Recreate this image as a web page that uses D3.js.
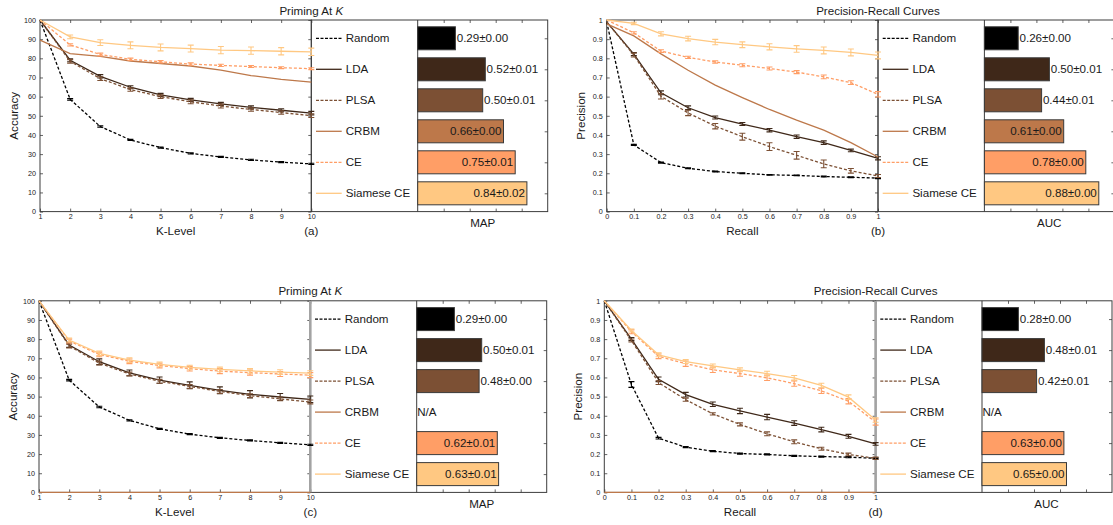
<!DOCTYPE html>
<html><head><meta charset="utf-8">
<script src="https://cdn.jsdelivr.net/npm/d3@7"></script>
<style>
body{margin:0;background:#fff}
svg{display:block;font-family:"Liberation Sans",Arial,sans-serif}
</style>
</head><body>
<svg id="chart" width="1113" height="525"></svg>
<script>
// ---------- data ----------
const methods = ["Random", "LDA", "PLSA", "CRBM", "CE", "Siamese CE"];
const colors  = ["#000000", "#3f2819", "#7c5034", "#bd784a", "#ff9e66", "#ffc882"];
const dashed  = [true, false, true, false, true, false];

const kLevels = [1, 2, 3, 4, 5, 6, 7, 8, 9, 10];
const recallLevels = [0, 0.1, 0.2, 0.3, 0.4, 0.5, 0.6, 0.7, 0.8, 0.9, 1];
const accuracyTicks = [0, 10, 20, 30, 40, 50, 60, 70, 80, 90, 100];
const precisionTicks = [0, 0.1, 0.2, 0.3, 0.4, 0.5, 0.6, 0.7, 0.8, 0.9, 1];

// (a) Priming at K – accuracy
const accuracyA = [
  [100, 58.6, 44.4, 37.4, 33.4, 30.4, 28.5, 27.0, 25.8, 24.9],
  [100, 79.0, 70.6, 64.9, 60.9, 58.3, 56.2, 54.4, 52.9, 51.4],
  [100, 78.4, 69.4, 63.7, 60.0, 57.3, 55.1, 53.3, 51.7, 50.1],
  [89.5, 82.5, 81.0, 78.6, 77.3, 76.0, 73.8, 71.0, 69.0, 67.6],
  [100, 87.0, 82.0, 79.5, 78.2, 77.0, 76.3, 75.7, 75.1, 74.6],
  [100, 91.2, 88.2, 86.8, 85.7, 85.1, 84.3, 84.0, 83.7, 83.4]
];
const accuracyErrA = [
  [0, 0.4, 0.4, 0.3, 0.3, 0.3, 0.3, 0.3, 0.3, 0.3],
  [0, 0.8, 0.9, 0.8, 0.8, 0.8, 0.8, 0.8, 0.8, 0.9],
  [0, 0.9, 1.0, 0.9, 0.9, 1.0, 1.0, 0.9, 0.9, 1.0],
  [0, 0, 0, 0, 0, 0, 0, 0, 0, 0],
  [0, 0.6, 0.7, 0.6, 0.6, 0.6, 0.6, 0.5, 0.5, 0.5],
  [0, 1.0, 1.5, 1.8, 1.8, 1.8, 1.9, 1.9, 1.9, 1.9]
];
// (b) Precision-recall
const precisionB = [
  [0.99, 0.348, 0.256, 0.226, 0.209, 0.200, 0.192, 0.189, 0.183, 0.179, 0.175],
  [0.99, 0.822, 0.620, 0.542, 0.491, 0.457, 0.425, 0.391, 0.360, 0.319, 0.278],
  [0.99, 0.817, 0.602, 0.515, 0.446, 0.391, 0.339, 0.294, 0.249, 0.213, 0.186],
  [0.98, 0.917, 0.823, 0.738, 0.660, 0.595, 0.533, 0.477, 0.425, 0.360, 0.285],
  [1.00, 0.933, 0.838, 0.805, 0.781, 0.764, 0.747, 0.728, 0.703, 0.673, 0.612],
  [1.00, 0.982, 0.928, 0.903, 0.885, 0.871, 0.860, 0.849, 0.841, 0.831, 0.815]
];
const precisionErrB = [
  [0, 0.003, 0.003, 0.002, 0.002, 0.002, 0.002, 0.002, 0.002, 0.002, 0.003],
  [0, 0.008, 0.010, 0.010, 0.008, 0.008, 0.009, 0.009, 0.009, 0.007, 0.008],
  [0, 0.010, 0.014, 0.014, 0.014, 0.018, 0.020, 0.020, 0.020, 0.012, 0.008],
  [0, 0, 0, 0, 0, 0, 0, 0, 0, 0, 0],
  [0, 0.006, 0.007, 0.006, 0.006, 0.008, 0.008, 0.008, 0.010, 0.010, 0.014],
  [0, 0.006, 0.011, 0.012, 0.014, 0.015, 0.016, 0.017, 0.018, 0.018, 0.018]
];
// (c) Priming at K – accuracy (second setting)
const accuracyC = [
  [100, 58.6, 44.6, 37.6, 33.2, 30.4, 28.5, 27.1, 25.9, 24.8],
  [100, 76.9, 68.2, 62.4, 58.6, 55.9, 53.3, 51.2, 49.8, 48.6],
  [100, 76.4, 67.5, 61.8, 58.0, 55.3, 52.7, 50.5, 48.8, 47.2],
  [0, 0, 0, 0, 0, 0, 0, 0, 0, 0],
  [100, 79.0, 72.0, 68.4, 66.2, 64.6, 63.3, 62.5, 61.8, 61.2],
  [100, 79.5, 72.6, 69.0, 66.8, 65.2, 64.2, 63.4, 62.8, 62.3]
];
const accuracyErrC = [
  [0, 0.4, 0.4, 0.3, 0.3, 0.3, 0.3, 0.3, 0.3, 0.3],
  [0, 1.2, 1.5, 1.5, 1.6, 1.8, 1.8, 1.9, 1.8, 1.7],
  [0, 1.0, 1.0, 1.0, 1.0, 1.0, 1.0, 1.0, 1.0, 1.0],
  [0, 0, 0, 0, 0, 0, 0, 0, 0, 0],
  [0, 1.0, 1.2, 1.2, 1.2, 1.2, 1.3, 1.3, 1.3, 1.3],
  [0, 1.0, 1.2, 1.2, 1.2, 1.2, 1.2, 1.2, 1.2, 1.2]
];
// (d) Precision-recall (second setting)
const precisionD = [
  [1.00, 0.563, 0.283, 0.236, 0.215, 0.203, 0.198, 0.191, 0.187, 0.184, 0.178],
  [1.00, 0.800, 0.590, 0.510, 0.460, 0.425, 0.393, 0.362, 0.328, 0.293, 0.253],
  [1.00, 0.793, 0.573, 0.484, 0.410, 0.355, 0.306, 0.264, 0.228, 0.198, 0.178],
  [0, 0, 0, 0, 0, 0, 0, 0, 0, 0, 0],
  [1.00, 0.838, 0.710, 0.672, 0.640, 0.620, 0.598, 0.568, 0.530, 0.476, 0.367],
  [1.00, 0.845, 0.718, 0.683, 0.660, 0.640, 0.620, 0.598, 0.558, 0.497, 0.378]
];
const precisionErrD = [
  [0, 0.015, 0.004, 0.003, 0.003, 0.003, 0.003, 0.003, 0.003, 0.003, 0.003],
  [0, 0.008, 0.012, 0.012, 0.012, 0.014, 0.014, 0.012, 0.012, 0.010, 0.007],
  [0, 0.008, 0.010, 0.008, 0.006, 0.008, 0.010, 0.010, 0.008, 0.007, 0.006],
  [0, 0, 0, 0, 0, 0, 0, 0, 0, 0, 0],
  [0, 0.010, 0.012, 0.014, 0.014, 0.014, 0.014, 0.014, 0.014, 0.014, 0.016],
  [0, 0.008, 0.010, 0.010, 0.010, 0.010, 0.012, 0.012, 0.012, 0.012, 0.012]
];

// bar summaries
const mapA = [0.29, 0.52, 0.50, 0.66, 0.75, 0.84];
const mapErrA = [0.00, 0.01, 0.01, 0.00, 0.01, 0.02];
const aucB = [0.26, 0.50, 0.44, 0.61, 0.78, 0.88];
const aucErrB = [0.00, 0.01, 0.01, 0.00, 0.00, 0.00];
const mapC = [0.29, 0.50, 0.48, null, 0.62, 0.63];
const mapErrC = [0.00, 0.01, 0.00, null, 0.01, 0.01];
const aucD = [0.28, 0.48, 0.42, null, 0.63, 0.65];
const aucErrD = [0.00, 0.01, 0.01, null, 0.00, 0.00];
const barTicks = [0.2, 0.4, 0.6, 0.8];

// ---------- layout ----------
const svg = d3.select("#chart");
const lineW = 271.3, legW = 106.4, barW = 130, H = 191.6;
const textCol = "#1a1a1a", frameCol = "#3c3c3c";
const FS = 11.6, TFS = 7.2;

const panels = [
  {x0: 40,    top: 20,    xs: kLevels, xTicks: kLevels, yTicks: accuracyTicks, yDom: [0, 100], vals: accuracyA, errs: accuracyErrA,
   bars: mapA, barErrs: mapErrA, title: "Priming At ", italicK: true, xLabel: "K-Level", yLabel: "Accuracy", barLabel: "MAP", tag: "(a)", grey: false},
  {x0: 606.7, top: 20,    xs: recallLevels, xTicks: recallLevels, yTicks: precisionTicks, yDom: [0, 1], vals: precisionB, errs: precisionErrB,
   bars: aucB, barErrs: aucErrB, title: "Precision-Recall Curves", italicK: false, xLabel: "Recall", yLabel: "Precision", barLabel: "AUC", tag: "(b)", grey: false},
  {x0: 39,    top: 300.8, xs: kLevels, xTicks: kLevels, yTicks: accuracyTicks, yDom: [0, 100], vals: accuracyC, errs: accuracyErrC,
   bars: mapC, barErrs: mapErrC, title: "Priming At ", italicK: true, xLabel: "K-Level", yLabel: "Accuracy", barLabel: "MAP", tag: "(c)", grey: true},
  {x0: 604.3, top: 300.8, xs: recallLevels, xTicks: recallLevels, yTicks: precisionTicks, yDom: [0, 1], vals: precisionD, errs: precisionErrD,
   bars: aucD, barErrs: aucErrD, title: "Precision-Recall Curves", italicK: false, xLabel: "Recall", yLabel: "Precision", barLabel: "AUC", tag: "(d)", grey: true}
];

function styleAxis(g) {
  g.select(".domain").remove();
  g.selectAll(".tick line").attr("stroke", frameCol).attr("stroke-width", 0.8);
  g.selectAll(".tick text").attr("fill", textCol).attr("font-size", TFS).attr("font-family", "Liberation Sans, Arial, sans-serif");
}

panels.forEach(p => {
  const g = svg.append("g");
  const xL = p.x0, xR = p.x0 + lineW, yT = p.top, yB = p.top + H;
  const x = d3.scaleLinear().domain(d3.extent(p.xs)).range([xL, xR]);
  const y = d3.scaleLinear().domain(p.yDom).range([yB, yT]);
  const legL = xR, barL = xR + legW, barR = barL + barW;

  // frames first
  g.append("rect").attr("x", xL).attr("y", yT).attr("width", lineW).attr("height", H)
    .attr("fill", "none").attr("stroke", frameCol).attr("stroke-width", 1);
  g.append("rect").attr("x", legL).attr("y", yT).attr("width", barR - legL).attr("height", H)
    .attr("fill", "none").attr("stroke", frameCol).attr("stroke-width", 1);
  g.append("line").attr("x1", barL).attr("x2", barL).attr("y1", yT).attr("y2", yB)
    .attr("stroke", frameCol).attr("stroke-width", 1);

  // ----- line plot axes -----
  g.append("g").attr("transform", `translate(0,${yB})`)
    .call(d3.axisBottom(x).tickValues(p.xTicks).tickFormat(d => String(d)).tickSizeInner(-3).tickSizeOuter(0).tickPadding(2.6))
    .call(styleAxis);
  g.append("g").attr("transform", `translate(0,${yT})`)
    .call(d3.axisTop(x).tickValues(p.xTicks).tickFormat("").tickSizeInner(-3).tickSizeOuter(0))
    .call(styleAxis);
  g.append("g").attr("transform", `translate(${xL},0)`)
    .call(d3.axisLeft(y).tickValues(p.yTicks).tickFormat(d => String(d)).tickSizeInner(-3).tickSizeOuter(0).tickPadding(4))
    .call(styleAxis);
  g.append("g").attr("transform", `translate(${xR},0)`)
    .call(d3.axisRight(y).tickValues(p.yTicks).tickFormat("").tickSizeInner(-3).tickSizeOuter(0))
    .call(styleAxis);

  if (p.grey) {
    g.append("line").attr("x1", xR).attr("x2", xR).attr("y1", yT).attr("y2", yB)
      .attr("stroke", "#a3a3a3").attr("stroke-width", 2.6);
  }

  // ----- series -----
  const line = d3.line().x((d, i) => x(p.xs[i])).y(d => y(d));
  p.vals.forEach((vals, s) => {
    const sg = g.append("g");
    sg.append("path").datum(vals)
      .attr("d", line)
      .attr("fill", "none")
      .attr("stroke", colors[s])
      .attr("stroke-width", 1.3)
      .attr("stroke-dasharray", dashed[s] ? "3,2" : null);
    const errs = p.errs[s];
    vals.forEach((v, i) => {
      const e = errs[i];
      if (!e) return;
      const cx = x(p.xs[i]), y1 = y(v - e), y2 = y(v + e);
      sg.append("path")
        .attr("d", `M${cx},${y1}V${y2}M${cx - 3},${y1}H${cx + 3}M${cx - 3},${y2}H${cx + 3}`)
        .attr("fill", "none").attr("stroke", colors[s]).attr("stroke-width", 1.1);
    });
  });

  // ----- legend + bar area -----
  const band = d3.scalePoint().domain(methods).range([yT, yB]).padding(0.59);
  const bx = d3.scaleLinear().domain([0, 1]).range([barL, barR]);
  const barH = 23;

  methods.forEach((m, s) => {
    const cy = band(m);
    g.append("line").attr("x1", legL + 4.7).attr("x2", legL + 30.4).attr("y1", cy).attr("y2", cy)
      .attr("stroke", colors[s]).attr("stroke-width", 1.3)
      .attr("stroke-dasharray", dashed[s] ? "3,1.5" : null);
    g.append("text").attr("x", legL + 34.4).attr("y", cy).attr("dy", "0.36em")
      .attr("font-size", FS).attr("fill", textCol).text(m);
  });

  methods.forEach((m, s) => {
    const v = p.bars[s];
    const cy = band(m);
    if (v == null) {
      g.append("text").attr("x", barL + 0.5).attr("y", cy).attr("dy", "0.36em")
        .attr("font-size", FS).attr("fill", textCol).text("N/A");
      return;
    }
    g.append("rect").attr("x", bx(0)).attr("y", cy - barH / 2).attr("width", bx(v) - bx(0)).attr("height", barH)
      .attr("fill", colors[s]).attr("stroke", "#3a3a3a").attr("stroke-width", 1);
    const label = `${v.toFixed(2)}±${p.barErrs[s].toFixed(2)}`;
    const inside = v >= 0.6;
    g.append("text").attr("x", inside ? bx(v) - 2 : bx(v) + 1.3).attr("y", cy).attr("dy", "0.36em")
      .attr("text-anchor", inside ? "end" : "start")
      .attr("font-size", FS).attr("fill", textCol).text(label);
  });

  g.append("g").attr("transform", `translate(0,${yB})`)
    .call(d3.axisBottom(bx).tickValues(barTicks).tickFormat("").tickSizeInner(-3).tickSizeOuter(0))
    .call(styleAxis);
  g.append("g").attr("transform", `translate(0,${yT})`)
    .call(d3.axisTop(bx).tickValues(barTicks).tickFormat("").tickSizeInner(-3).tickSizeOuter(0))
    .call(styleAxis);
  g.append("g").attr("transform", `translate(${barR},0)`)
    .call(d3.axisRight(band).tickFormat("").tickSizeInner(-3).tickSizeOuter(0))
    .call(styleAxis);

  // ----- texts -----
  const t = g.append("text").attr("x", xR).attr("y", yT - 5.5).attr("text-anchor", "middle")
    .attr("font-size", FS).attr("fill", textCol);
  t.append("tspan").text(p.title);
  if (p.italicK) t.append("tspan").attr("font-style", "italic").text("K");

  g.append("text").attr("x", (xL + xR) / 2).attr("y", yB + 23.5).attr("text-anchor", "middle")
    .attr("font-size", FS).attr("fill", textCol).text(p.xLabel);
  g.append("text").attr("x", xR).attr("y", yB + 23.5).attr("text-anchor", "middle")
    .attr("font-size", FS).attr("fill", textCol).text(p.tag);
  g.append("text").attr("transform", `translate(${xL - 22},${(yT + yB) / 2}) rotate(-90)`)
    .attr("text-anchor", "middle").attr("font-size", FS).attr("fill", textCol).text(p.yLabel);
  g.append("text").attr("x", (barL + Math.min(barR, 1111)) / 2 + (barR > 1113 ? 1.5 : 0)).attr("y", yB + 15.6).attr("text-anchor", "middle")
    .attr("font-size", FS).attr("fill", textCol).text(p.barLabel);
});
</script>
</body></html>
